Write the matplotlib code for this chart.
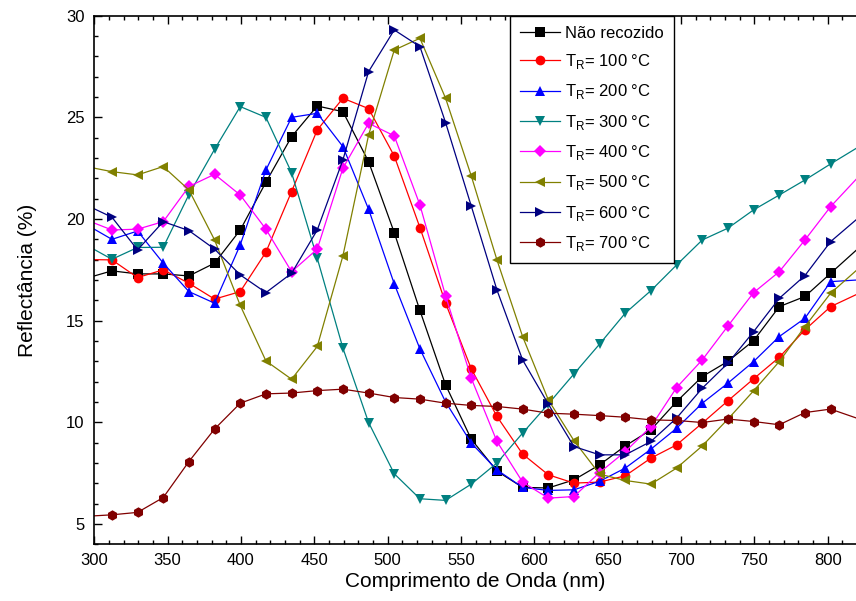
import matplotlib
matplotlib.use("Agg")
import matplotlib.pyplot as plt
from matplotlib.ticker import MultipleLocator

plt.rcParams['font.family'] = ['Liberation Sans', 'DejaVu Sans']
plt.rcParams['mathtext.fontset'] = 'custom'
plt.rcParams['mathtext.rm'] = 'Liberation Sans'

wavelength = [300, 312, 329.5, 347, 364.5, 382, 399.5, 417, 434.5, 452, 469.5, 487, 504.5,
              522, 539.5, 557, 574.5, 592, 609.5, 627, 644.5, 662, 679.5, 697, 714.5, 732,
              749.5, 767, 784.5, 802, 820]

nao_recozido = [17.2, 17.45, 17.3, 17.3, 17.2, 17.83, 19.46, 21.81, 24.05, 25.56, 25.28, 22.82,
                19.33, 15.5, 11.84, 9.17, 7.6, 6.8, 6.77, 7.17, 7.91, 8.84, 9.63, 11.02, 12.25,
                13.0, 14.02, 15.69, 16.19, 17.33, 18.5]
tr_100 = [18.0, 17.99, 17.12, 17.5, 16.84, 16.06, 16.43, 18.37, 21.35, 24.38, 25.94, 25.43, 23.1,
          19.58, 15.86, 12.63, 10.29, 8.44, 7.42, 7.01, 7.06, 7.37, 8.24, 8.89, 9.96, 11.06,
          12.14, 13.2, 14.55, 15.69, 16.3]
tr_200 = [19.5, 19.0, 19.41, 17.83, 16.43, 15.86, 18.73, 22.41, 25.0, 25.2, 23.56, 20.48, 16.81,
          13.61, 11.0, 8.98, 7.66, 6.8, 6.65, 6.68, 7.1, 7.75, 8.68, 9.71, 10.94, 11.93, 12.99,
          14.22, 15.12, 16.92, 17.0]
tr_300 = [18.5, 18.02, 18.6, 18.61, 21.2, 23.43, 25.53, 25.0, 22.28, 18.07, 13.65, 9.99, 7.47,
          6.24, 6.16, 6.96, 8.0, 9.47, 10.9, 12.38, 13.85, 15.37, 16.48, 17.74, 18.97, 19.55,
          20.45, 21.18, 21.92, 22.71, 23.5]
tr_400 = [19.8, 19.46, 19.5, 19.87, 21.6, 22.2, 21.18, 19.5, 17.41, 18.52, 22.5, 24.71, 24.09,
          20.69, 16.22, 12.17, 9.06, 7.06, 6.27, 6.35, 7.53, 8.56, 9.79, 11.71, 13.07, 14.74,
          16.38, 17.41, 18.97, 20.61, 22.0]
tr_500 = [22.5, 22.33, 22.17, 22.58, 21.43, 18.97, 15.75, 13.02, 12.12, 13.73, 18.19, 24.13, 28.31,
          28.89, 25.94, 22.12, 17.99, 14.22, 11.11, 9.1, 7.45, 7.14, 6.96, 7.75, 8.84, 10.16,
          11.55, 12.99, 14.71, 16.35, 17.5]
tr_600 = [20.5, 20.09, 18.48, 19.87, 19.43, 18.52, 17.25, 16.38, 17.33, 19.46, 22.91, 27.25, 29.3,
          28.48, 24.74, 20.64, 16.51, 13.07, 10.9, 8.81, 8.4, 8.4, 9.06, 10.21, 11.68, 12.91,
          14.46, 16.1, 17.22, 18.89, 20.0]
tr_700 = [5.4, 5.45, 5.57, 6.3, 8.07, 9.67, 10.94, 11.4, 11.44, 11.56, 11.63, 11.44, 11.22,
          11.14, 10.94, 10.83, 10.78, 10.65, 10.45, 10.40, 10.33, 10.25, 10.12, 10.09, 9.99,
          10.16, 10.04, 9.88, 10.48, 10.65, 10.2]

labels = ['Não recozido', r'T$_\mathregular{R}$= 100 °C', r'T$_\mathregular{R}$= 200 °C',
          r'T$_\mathregular{R}$= 300 °C', r'T$_\mathregular{R}$= 400 °C', r'T$_\mathregular{R}$= 500 °C',
          r'T$_\mathregular{R}$= 600 °C', r'T$_\mathregular{R}$= 700 °C']
series = [nao_recozido, tr_100, tr_200, tr_300, tr_400, tr_500, tr_600, tr_700]
colors = ['#000000', '#ff0000', '#0000ff', '#008080', '#ff00ff', '#808000', '#000080', '#800000']
markers = ['s', 'o', '^', 'v', 'D', '<', '>', 'h']
msizes = [6.5, 7, 7.5, 7.5, 6, 7.5, 7.5, 7.5]

fig = plt.figure(figsize=(8.56, 6.01), dpi=100)
ax = fig.add_axes([94.3 / 856, (601 - 544.3) / 601, (856 - 94.3) / 856, (544.3 - 15.7) / 601])

for y, lab, c, m, ms in zip(series, labels, colors, markers, msizes):
    ax.plot(wavelength, y, color=c, lw=0.9, marker=m, ms=ms, markevery=range(1, len(wavelength) - 1),
            markeredgewidth=0, label=lab)

ax.set_xlim(300, 819.3)
ax.set_ylim(4, 30)
ax.xaxis.set_major_locator(MultipleLocator(50))
ax.xaxis.set_minor_locator(MultipleLocator(10))
ax.yaxis.set_major_locator(MultipleLocator(5))
ax.yaxis.set_minor_locator(MultipleLocator(1))
ax.spines['right'].set_visible(False)
for s in ['left', 'bottom', 'top']:
    ax.spines[s].set_linewidth(1.2)
ax.tick_params(which='both', direction='in', top=True, right=False, width=1.0, labelsize=12)
ax.tick_params(which='major', length=6)
ax.tick_params(which='minor', length=3)
ax.tick_params(axis='x', pad=6)
ax.tick_params(axis='y', pad=7)

ax.set_xlabel('Comprimento de Onda (nm)', fontsize=15, labelpad=3)
ax.set_ylabel('Reflectância (%)', fontsize=15, labelpad=21)

leg = ax.legend(loc='upper left', bbox_to_anchor=((510 - 94.3) / 761.7, 1.0), borderaxespad=0,
                fontsize=12, frameon=True, fancybox=False, framealpha=1, edgecolor='black',
                handlelength=2.4, handletextpad=0.3, labelspacing=0.68, borderpad=0.6)
leg.get_frame().set_linewidth(1.0)

fig.savefig('out.png', dpi=100)
